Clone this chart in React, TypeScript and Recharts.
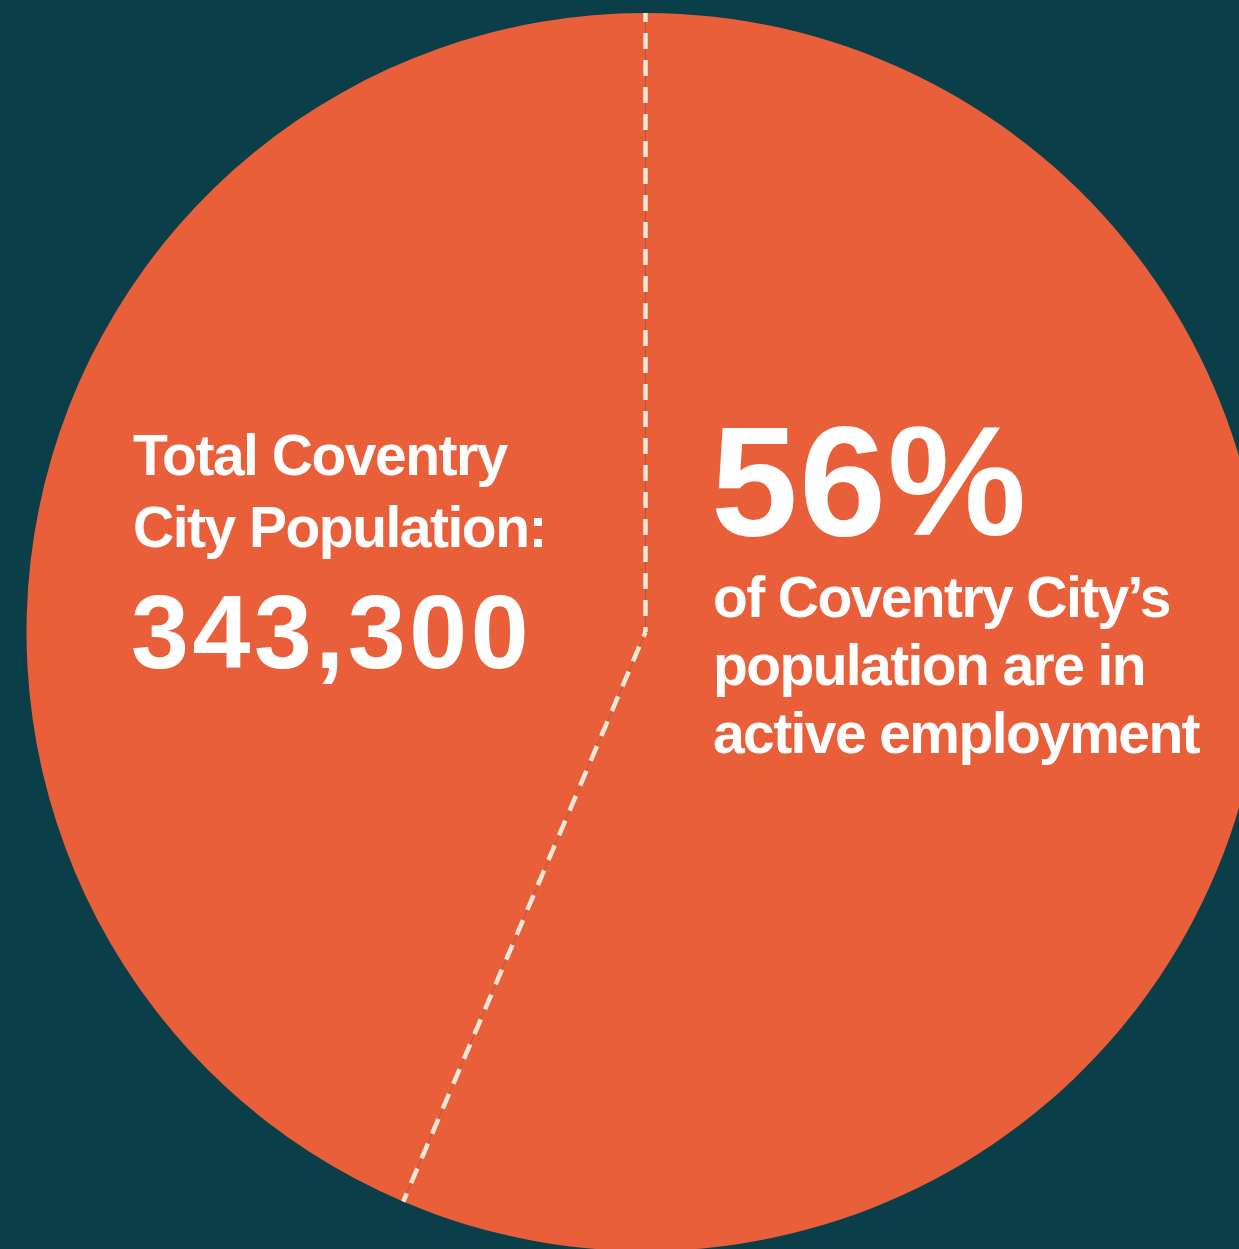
import React from 'react';
import { PieChart, Pie, Cell } from 'recharts';

const categories = ['In active employment', 'Rest of population'];
const shares = [56.4, 43.6];
const leftLines = ['Total Coventry', 'City Population:'];
const totalLabel = '343,300';
const pctLabel = '56%';
const rightLines = ["of Coventry City\u2019s", 'population are in', 'active employment'];

const data = categories.map((name, i) => ({ name, value: shares[i] }));

const BG = '#0a3f49';
const ORANGE = '#e95f3a';
const DASH = '#ece8d6';
const FONT = '"Liberation Sans", Arial, Helvetica, sans-serif';
const RAD = Math.PI / 180;

const renderBoundary = (props: any) => {
  const { cx, cy, outerRadius, startAngle, index } = props;
  const x2 = cx + outerRadius * Math.cos(-startAngle * RAD);
  const y2 = cy + outerRadius * Math.sin(-startAngle * RAD);
  return (
    <line
      key={`b-${index}`}
      x1={x2}
      y1={y2}
      x2={cx}
      y2={cy}
      stroke={DASH}
      strokeWidth={4.5}
      strokeDasharray="16 11"
      strokeDashoffset={7}
    />
  );
};

export default function App() {
  const W = 1239;
  const H = 1249;
  const textStyle = { fontFamily: FONT, fontWeight: 700, fill: '#ffffff' } as const;
  return (
    <div style={{ position: 'absolute', left: 0, top: 0, width: W, height: H, background: BG, overflow: 'hidden' }}>
      <PieChart width={W} height={H} margin={{ top: 0, right: 0, bottom: 0, left: 0 }}>
        <Pie
          data={data}
          dataKey="value"
          nameKey="name"
          cx={645.5}
          cy={632}
          outerRadius={619}
          startAngle={90}
          endAngle={-270}
          stroke="none"
          isAnimationActive={false}
          label={renderBoundary}
          labelLine={false}
        >
          {data.map((d) => (
            <Cell key={d.name} fill={ORANGE} stroke="none" />
          ))}
        </Pie>
      </PieChart>
      <svg width={W} height={H} style={{ position: 'absolute', left: 0, top: 0, pointerEvents: 'none' }}>
        {leftLines.map((t, i) => (
          <text key={t} x={133} y={475 + i * 71.5} fontSize={57} letterSpacing={-1.5} style={textStyle}>
            {t}
          </text>
        ))}
        <text x={131} y={668} fontSize={104} letterSpacing={3.6} style={textStyle}>
          {totalLabel}
        </text>
        <text x={711} y={535} fontSize={156} letterSpacing={1.5} style={textStyle}>
          {pctLabel}
        </text>
        {rightLines.map((t, i) => (
          <text key={t} x={713} y={617 + i * 68} fontSize={57} letterSpacing={-1.6} style={textStyle}>
            {t}
          </text>
        ))}
      </svg>
    </div>
  );
}
